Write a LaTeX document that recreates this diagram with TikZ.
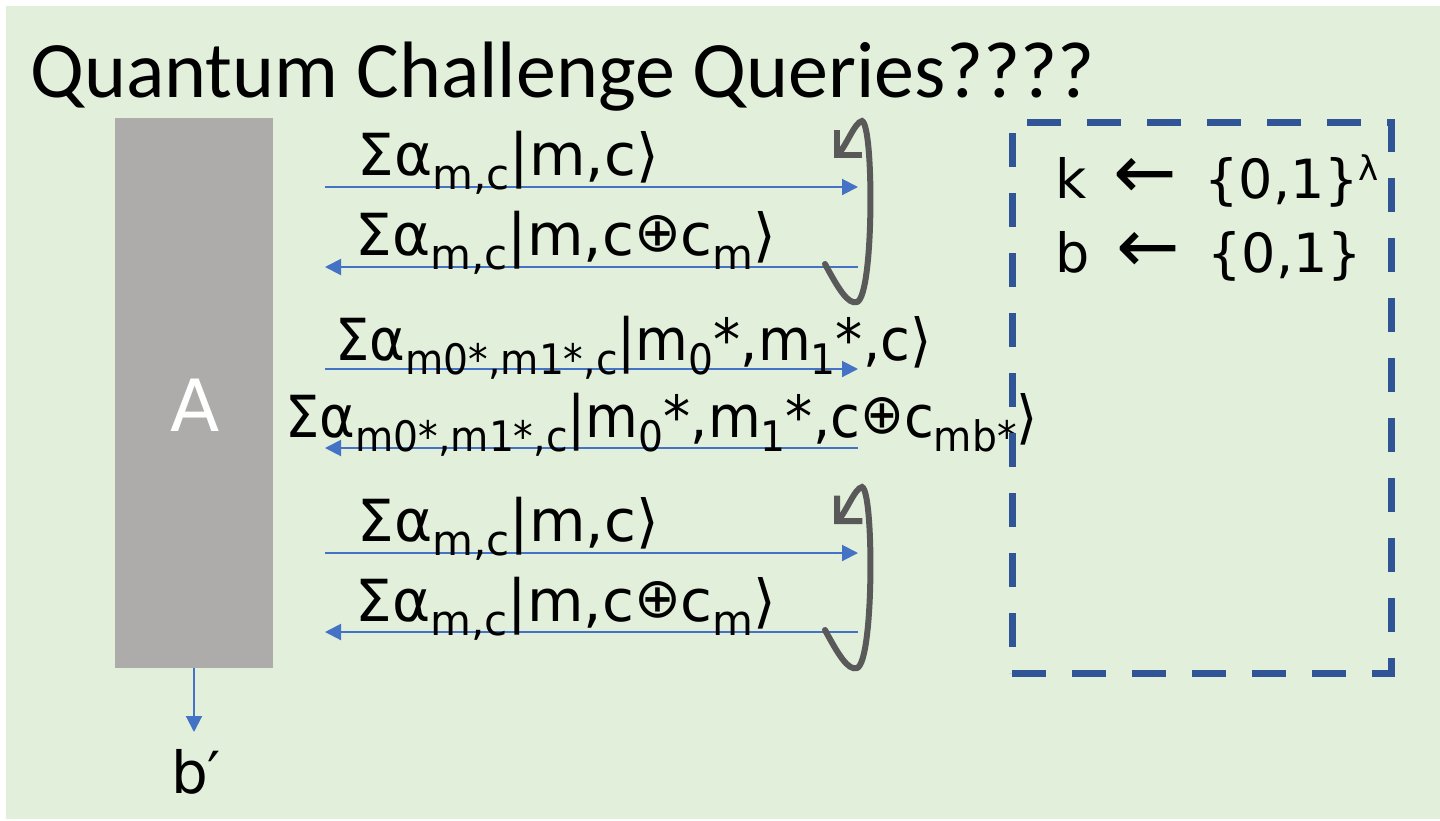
\documentclass[tikz,border=0pt]{standalone}
\usepackage{fontspec}
\setmainfont{DejaVu Sans}
\newfontfamily\titlefont{Carlito}
\usetikzlibrary{arrows.meta}
\definecolor{slidebg}{HTML}{E2EFDA}
\definecolor{advgray}{HTML}{AEABAB}
\definecolor{msgblue}{HTML}{4472C4}
\definecolor{loopgray}{HTML}{595959}
\definecolor{chalblue}{HTML}{2F5597}
% lowered index and small xor sign, as on the slide
\newcommand{\subtxt}[1]{\raisebox{-7pt}{\fontsize{21}{21}\selectfont #1}}
\newcommand{\xorsign}{\raisebox{2pt}{\fontsize{28}{28}\selectfont ⊕}}
\newcommand{\narrow}[1]{\scalebox{0.935}[1]{#1}}
\newcommand{\samplearrow}{{\fontsize{38}{38}\selectfont ←}}

\begin{document}
\begin{tikzpicture}[x=0.5pt, y=-0.5pt,
      advbox/.style={fill=advgray, inner sep=0pt,
                     minimum width=79pt, minimum height=275pt},
      chal/.style={draw=chalblue, line width=3.5pt,
                   dash pattern=on 17pt off 13pt, inner sep=0pt,
                   minimum width=189.5pt, minimum height=275.5pt},
      qlbl/.style={anchor=base west, inner sep=0pt, font=\fontsize{29}{29}\selectfont},
      keytxt/.style={anchor=base west, inner sep=0pt, font=\fontsize{27}{27}\selectfont},
      msg/.style={-{Triangle[length=8pt, width=8pt]}, line width=1pt, color=msgblue},
      requery/.style={-{Straight Barb[length=9pt, width=18pt]}, line width=3pt,
                      color=loopgray, line cap=round}
  ]
    \useasboundingbox (0,0) rectangle (1440,820);
    \fill[slidebg] (6,6) rectangle (1440,819);
    \node[anchor=base west, inner sep=0pt, font=\titlefont\fontsize{40}{40}\selectfont]
      (title) at (30,97) {Quantum Challenge Queries????};

    % adversary and its output bit
    \node[advbox] (adv) at (194,393) {};
    \node[text=white, font=\fontsize{36}{36}\selectfont] (advname) at (195,405) {A};
    \coordinate (bhead) at (194,732);
    \node[anchor=base, inner sep=0pt, font=\fontsize{29}{29}\selectfont] (bout) at (196,793) {b′};
    \draw[msg] (adv.south) -- (bhead);

    % end points of the query arrows
    \foreach \r/\y in {1/187, 2/267, 3/369, 4/448, 5/553, 6/632} {
      \coordinate (q\r w) at (325,\y);
      \coordinate (q\r e) at (858,\y);
    }
    \draw[msg] (q1w) -- (q1e);
    \draw[msg] (q2e) -- (q2w);
    \draw[msg] (q3w) -- (q3e);
    \draw[msg] (q4e) -- (q4w);
    \draw[msg] (q5w) -- (q5e);
    \draw[msg] (q6e) -- (q6w);

    \node[qlbl] (lab1) at (357,175) {Σα\subtxt{m,c}|m,c⟩};
    \node[qlbl] (lab2) at (355,255) {Σα\subtxt{m,c}|m,c\xorsign c\subtxt{m}⟩};
    \node[qlbl] (lab3) at (335,360) {\narrow{Σα\subtxt{m0*,m1*,c}|m\subtxt{0}*,m\subtxt{1}*,c⟩}};
    \node[qlbl] (lab4) at (285,437) {\narrow{Σα\subtxt{m0*,m1*,c}|m\subtxt{0}*,m\subtxt{1}*,c\xorsign c\subtxt{mb*}⟩}};
    \node[qlbl] (lab5) at (357,541) {Σα\subtxt{m,c}|m,c⟩};
    \node[qlbl] (lab6) at (355,621) {Σα\subtxt{m,c}|m,c\xorsign c\subtxt{m}⟩};

    % repeated queries loop back
    \coordinate (rq1s) at (825,264);
    \coordinate (rq1e) at (834,158);
    \draw[requery] (rq1s) .. controls (838,288) and (848,305) .. (857,302)
      .. controls (874,296) and (874,125) .. (862,121)
      .. controls (855,122) and (846,146) .. (rq1e);
    \coordinate (rq2s) at (825,630);
    \coordinate (rq2e) at (834,524);
    \draw[requery] (rq2s) .. controls (838,654) and (848,671) .. (857,668)
      .. controls (874,662) and (874,491) .. (862,487)
      .. controls (855,488) and (846,512) .. (rq2e);

    % challenger
    \node[chal] (chal) at (1201.5,397.5) {};
    \node[keytxt] (keyk) at (1055,198) {k\enspace\samplearrow\enspace\{0,1\}\raisebox{9pt}{\fontsize{17}{17}\selectfont λ}};
    \node[keytxt] (keyb) at (1055,272) {b\enspace\samplearrow\enspace\{0,1\}};
\end{tikzpicture}
\end{document}
